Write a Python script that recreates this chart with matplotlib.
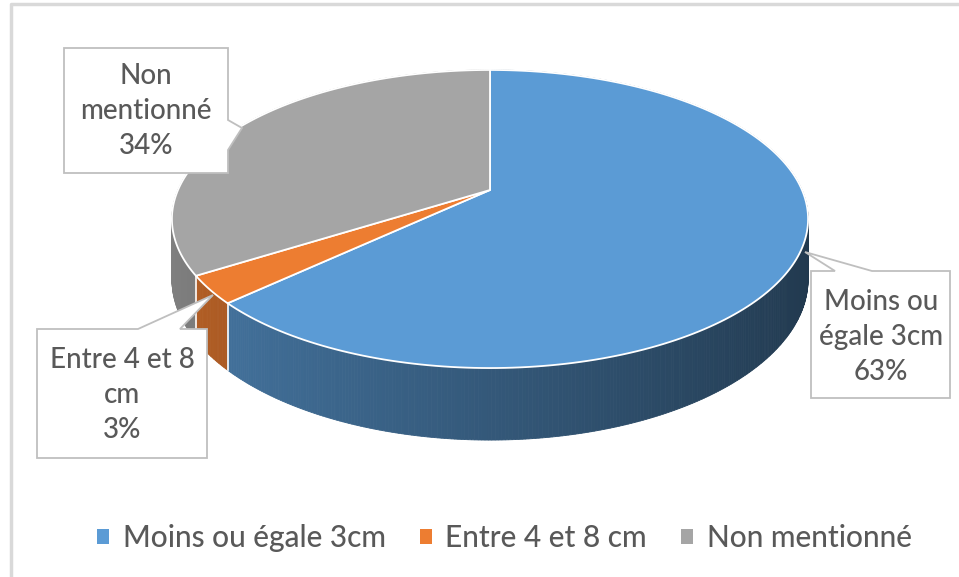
import numpy as np
import matplotlib
import matplotlib.pyplot as plt
from matplotlib.patches import Polygon, Patch
from matplotlib.colors import to_rgb

matplotlib.use('Agg')
plt.rcParams['font.family'] = ['Lato', 'DejaVu Sans']

categories = ['Moins ou égale 3cm', 'Entre 4 et 8 cm', 'Non mentionné']
percentages = [63, 3, 34]
label_lines = ['Moins ou\négale 3cm', 'Entre 4 et 8\ncm', 'Non\nmentionné']
colors = ['#5B9BD5', '#ED7D31', '#A5A5A5']
text_color = '#595959'

W, H = 959, 577
fig = plt.figure(figsize=(W / 100, H / 100), dpi=100)
ax = fig.add_axes([0, 0, 1, 1])
ax.set_xlim(0, W)
ax.set_ylim(H, 0)
ax.axis('off')

# pie geometry (pixel space), simple perspective
cx, cy = 490, 190
a, b = 312, 143.4
k = 0.1946
depth = 58


def proj(theta, r=1.0, drop=0.0):
    t = np.radians(theta)
    u = r * np.sin(t)
    v = -r * np.cos(t)
    s = 1.0 / (1.0 - k * v)
    return cx + a * u * s, cy + b * v * s + drop * s


def shade(col, u):
    f = 0.57 - 0.21 * u
    return tuple(min(1, c * f) for c in to_rgb(col))


fracs = np.array(percentages) / np.sum(percentages)
bounds = np.concatenate([[0], np.cumsum(fracs) * 360])

# side walls, drawn back to front
quads = []
for i in range(len(percentages)):
    t0, t1 = bounds[i], bounds[i + 1]
    n = max(2, int((t1 - t0) / 0.5))
    ts = np.linspace(t0, t1, n + 1)
    for j in range(n):
        ta, tb = ts[j], ts[j + 1]
        tm = 0.5 * (ta + tb)
        xa, ya = proj(ta)
        xb, yb = proj(tb)
        xa2, ya2 = proj(ta, drop=depth)
        xb2, yb2 = proj(tb, drop=depth)
        vm = -np.cos(np.radians(tm))
        um = np.sin(np.radians(tm))
        quads.append((vm, [(xa, ya), (xb, yb), (xb2, yb2), (xa2, ya2)], shade(colors[i], um)))
quads.sort(key=lambda q: q[0])
for vm, pts, c in quads:
    ax.add_patch(Polygon(pts, closed=True, facecolor=c, edgecolor=c, lw=0.6, zorder=2))

# white separators on the visible front side
for t in bounds[:-1]:
    if -np.cos(np.radians(t)) > k:
        x1, y1 = proj(t)
        x2, y2 = proj(t, drop=depth)
        ax.plot([x1, x2], [y1, y2], color='white', lw=1.2, zorder=3)

# top faces
for i in range(len(percentages)):
    ts = np.linspace(bounds[i], bounds[i + 1], 200)
    pts = [(cx, cy)] + [proj(t) for t in ts]
    ax.add_patch(Polygon(pts, closed=True, facecolor=colors[i], edgecolor='white',
                         lw=1.3, joinstyle='round', zorder=4))

# callout boxes
callouts = [
    [(811, 271), (835, 271), (805, 252), (872, 271), (950, 271), (950, 398), (811, 398)],
    [(37, 329), (138, 329), (213, 295), (180, 329), (207, 329), (207, 458), (37, 458)],
    [(64, 48), (228, 48), (228, 120), (242, 128), (228, 150), (228, 173), (64, 173)],
]
text_pos = [(881, 337), (122, 395), (146, 111)]
for i in range(len(percentages)):
    ax.add_patch(Polygon(callouts[i], closed=True, facecolor='white', edgecolor='#BFBFBF',
                         lw=1.3, zorder=5))
    ax.text(text_pos[i][0], text_pos[i][1], f'{label_lines[i]}\n{percentages[i]}%',
            ha='center', va='center', fontsize=20, color=text_color, fontweight='medium',
            linespacing=1.45, zorder=6)

# chart border (top and left)
ax.plot([11, 11, W], [H, 4, 4], color='#D9D9D9', lw=2.5, zorder=1)

handles = [Patch(facecolor=c, edgecolor='none') for c in colors]
fig.legend(handles, categories, loc='center', bbox_to_anchor=(0.526, 1 - 538 / H),
           ncol=3, frameon=False, prop={'size': 21.5, 'weight': 'medium'},
           labelcolor=text_color, handlelength=0.4, handleheight=0.4,
           handletextpad=0.45, columnspacing=1.15)

fig.savefig('out.png', dpi=100)
